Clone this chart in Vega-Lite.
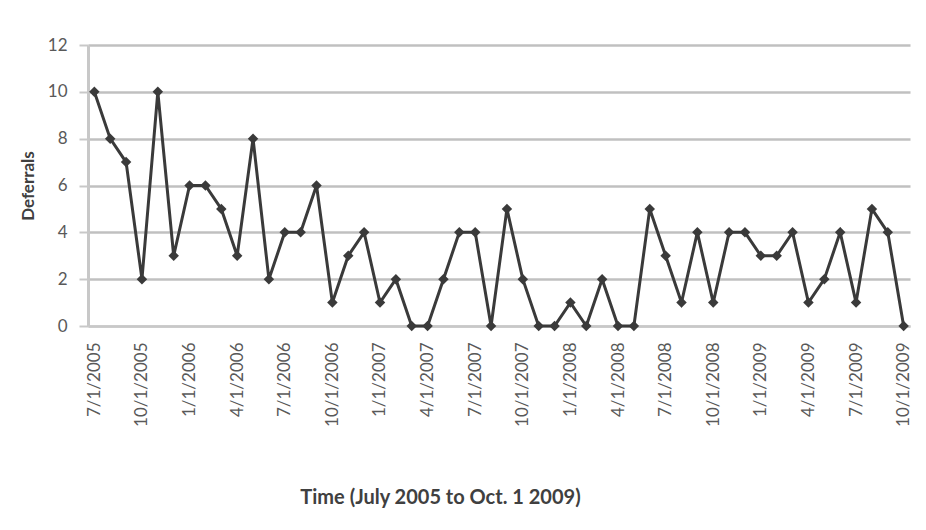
{
  "$schema": "https://vega.github.io/schema/vega-lite/v6.json",
  "autosize": "none",
  "width": 822,
  "height": 281,
  "padding": {"left": 88, "top": 45, "right": 16, "bottom": 204},
  "background": "white",
  "config": {"view": {"stroke": null}, "font": "Lato"},
  "data": {"values": [
    {"date": "7/1/2005", "deferrals": 10},
    {"date": "8/1/2005", "deferrals": 8},
    {"date": "9/1/2005", "deferrals": 7},
    {"date": "10/1/2005", "deferrals": 2},
    {"date": "11/1/2005", "deferrals": 10},
    {"date": "12/1/2005", "deferrals": 3},
    {"date": "1/1/2006", "deferrals": 6},
    {"date": "2/1/2006", "deferrals": 6},
    {"date": "3/1/2006", "deferrals": 5},
    {"date": "4/1/2006", "deferrals": 3},
    {"date": "5/1/2006", "deferrals": 8},
    {"date": "6/1/2006", "deferrals": 2},
    {"date": "7/1/2006", "deferrals": 4},
    {"date": "8/1/2006", "deferrals": 4},
    {"date": "9/1/2006", "deferrals": 6},
    {"date": "10/1/2006", "deferrals": 1},
    {"date": "11/1/2006", "deferrals": 3},
    {"date": "12/1/2006", "deferrals": 4},
    {"date": "1/1/2007", "deferrals": 1},
    {"date": "2/1/2007", "deferrals": 2},
    {"date": "3/1/2007", "deferrals": 0},
    {"date": "4/1/2007", "deferrals": 0},
    {"date": "5/1/2007", "deferrals": 2},
    {"date": "6/1/2007", "deferrals": 4},
    {"date": "7/1/2007", "deferrals": 4},
    {"date": "8/1/2007", "deferrals": 0},
    {"date": "9/1/2007", "deferrals": 5},
    {"date": "10/1/2007", "deferrals": 2},
    {"date": "11/1/2007", "deferrals": 0},
    {"date": "12/1/2007", "deferrals": 0},
    {"date": "1/1/2008", "deferrals": 1},
    {"date": "2/1/2008", "deferrals": 0},
    {"date": "3/1/2008", "deferrals": 2},
    {"date": "4/1/2008", "deferrals": 0},
    {"date": "5/1/2008", "deferrals": 0},
    {"date": "6/1/2008", "deferrals": 5},
    {"date": "7/1/2008", "deferrals": 3},
    {"date": "8/1/2008", "deferrals": 1},
    {"date": "9/1/2008", "deferrals": 4},
    {"date": "10/1/2008", "deferrals": 1},
    {"date": "11/1/2008", "deferrals": 4},
    {"date": "12/1/2008", "deferrals": 4},
    {"date": "1/1/2009", "deferrals": 3},
    {"date": "2/1/2009", "deferrals": 3},
    {"date": "3/1/2009", "deferrals": 4},
    {"date": "4/1/2009", "deferrals": 1},
    {"date": "5/1/2009", "deferrals": 2},
    {"date": "6/1/2009", "deferrals": 4},
    {"date": "7/1/2009", "deferrals": 1},
    {"date": "8/1/2009", "deferrals": 5},
    {"date": "9/1/2009", "deferrals": 4},
    {"date": "10/1/2009", "deferrals": 0}
  ]},
  "encoding": {
    "x": {
      "field": "date", "type": "ordinal", "sort": null,
      "scale": {"type": "point", "padding": 0.4},
      "axis": {
        "values": ["7/1/2005","10/1/2005","1/1/2006","4/1/2006","7/1/2006","10/1/2006","1/1/2007","4/1/2007","7/1/2007","10/1/2007","1/1/2008","4/1/2008","7/1/2008","10/1/2008","1/1/2009","4/1/2009","7/1/2009","10/1/2009"],
        "labelAngle": -90, "labelAlign": "right", "labelBaseline": "middle",
        "labelFontSize": 17, "labelColor": "#595959", "labelPadding": 16,
        "ticks": false, "domainColor": "#c8c8c8", "domainWidth": 2,
        "title": "Time (July 2005 to Oct. 1 2009)",
        "titleFontSize": 20, "titleFontWeight": "bold", "titleColor": "#404040",
        "titleX": 352, "titleY": 171, "titleAnchor": "middle", "titleBaseline": "middle"
      }
    },
    "y": {
      "field": "deferrals", "type": "quantitative",
      "scale": {"domain": [0, 12]},
      "axis": {
        "values": [0, 2, 4, 6, 8, 10, 12],
        "labelFontSize": 17, "labelColor": "#595959", "labelPadding": 12,
        "tickColor": "#c8c8c8", "tickSize": 9, "tickWidth": 2,
        "domainColor": "#c8c8c8", "domainWidth": 3,
        "grid": true, "gridColor": "#c0c0c0", "gridWidth": 2.5,
        "title": "Deferrals", "titleFontSize": 17, "titleFontWeight": "bold",
        "titleColor": "#404040", "titlePadding": 10
      }
    }
  },
  "layer": [
    {"mark": {"type": "line", "color": "#3a3a3a", "strokeWidth": 3}},
    {"mark": {"type": "point", "shape": "diamond", "filled": true, "color": "#3a3a3a", "size": 110, "opacity": 1}}
  ]
}
